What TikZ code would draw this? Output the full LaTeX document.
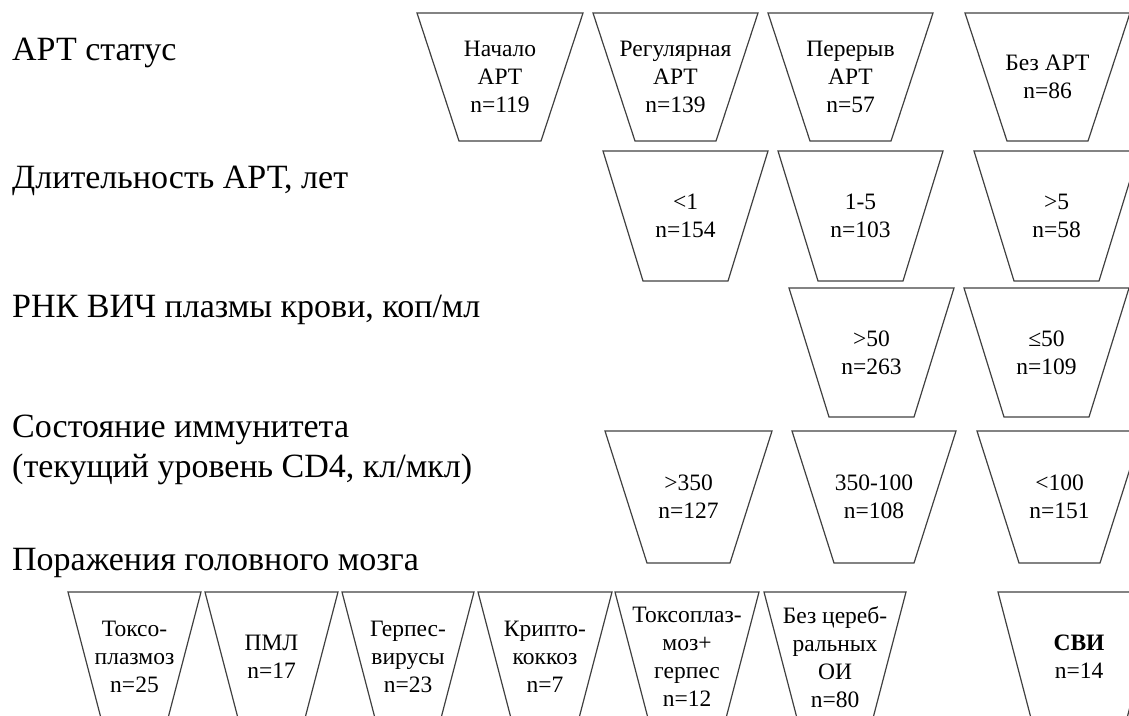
\documentclass[tikz,border=0pt]{standalone}
\usepackage{fontspec}
\setmainfont{Liberation Serif}
\usepackage{tikz}
\definecolor{boxgray}{RGB}{64,64,64}
\tikzset{
	boxline/.style={draw=boxgray,line width=1.2pt,line join=miter},
	boxtext/.style={align=center,inner sep=0pt,font=\fontsize{23.5}{28}\selectfont},
	rowlabel/.style={anchor=base west,inner sep=0pt,align=left,font=\fontsize{34}{40}\selectfont}
}
% inverted trapezium: name, left, right, top, bottom, inset, text
\newcommand{\ibox}[7]{%
	\path[boxline] (#2,#4) -- (#3,#4) -- (#3-#6,#5) -- (#2+#6,#5) -- cycle;
	\node (#1) at ({(#2+#3)/2},{(#4+#5)/2}) [boxtext] {#7};
}

\begin{document}
\begin{tikzpicture}[x=1pt,y=-1pt]
	\useasboundingbox (0,0) rectangle (1129,715);
	\clip (0,0) rectangle (1129,715);
	% row labels
	\node (lart) at (12,60) [rowlabel] {АРТ статус};
	\node (ldur) at (12,188) [rowlabel] {Длительность АРТ, лет};
	\node (lrna) at (12,317) [rowlabel] {РНК ВИЧ плазмы крови, коп/мл};
	\node (lcd) at (12,477) [rowlabel] {Состояние иммунитета\\(текущий уровень CD4, кл/мкл)};
	\node (lbrain) at (12,570) [rowlabel] {Поражения головного мозга};
	% ART status
	\ibox{nach}{417}{583}{13}{141}{42}{Начало\\АРТ\\n=119}
	\ibox{reg}{593}{758}{13}{141}{42}{Регулярная\\АРТ\\n=139}
	\ibox{per}{768}{933}{13}{141}{42}{Перерыв\\АРТ\\n=57}
	\ibox{bez}{965}{1130}{13}{141}{42}{Без АРТ\\n=86}
	% duration
	\ibox{durA}{603}{768}{151}{281}{40}{<1\\n=154}
	\ibox{durB}{778}{943}{151}{281}{40}{1-5\\n=103}
	\ibox{durC}{974}{1139}{151}{281}{40}{>5\\n=58}
	% RNA
	\ibox{rnaA}{789}{954}{288}{417}{40}{>50\\n=263}
	\ibox{rnaB}{964}{1129}{288}{417}{40}{≤50\\n=109}
	% CD4
	\ibox{cdA}{605}{772}{431}{563}{42}{>350\\n=127}
	\ibox{cdB}{792}{956}{431}{563}{42}{350-100\\n=108}
	\ibox{cdC}{977}{1142}{431}{563}{42}{<100\\n=151}
	% brain lesions
	\ibox{toxo}{68}{201}{592}{722}{34}{Токсо-\\плазмоз\\n=25}
	\ibox{pml}{205}{338}{592}{722}{34}{ПМЛ\\n=17}
	\ibox{herp}{342}{474}{592}{722}{34}{Герпес-\\вирусы\\n=23}
	\ibox{krip}{478}{612}{592}{722}{34}{Крипто-\\коккоз\\n=7}
	\ibox{toxh}{615}{759}{592}{722}{34}{Токсоплаз-\\моз+\\герпес\\n=12}
	\ibox{nooi}{764}{906}{592}{722}{34}{Без цереб-\\ральных\\ОИ\\n=80}
	\ibox{svi}{998}{1160}{592}{722}{34}{\textbf{СВИ}\\n=14}
\end{tikzpicture}
\end{document}
